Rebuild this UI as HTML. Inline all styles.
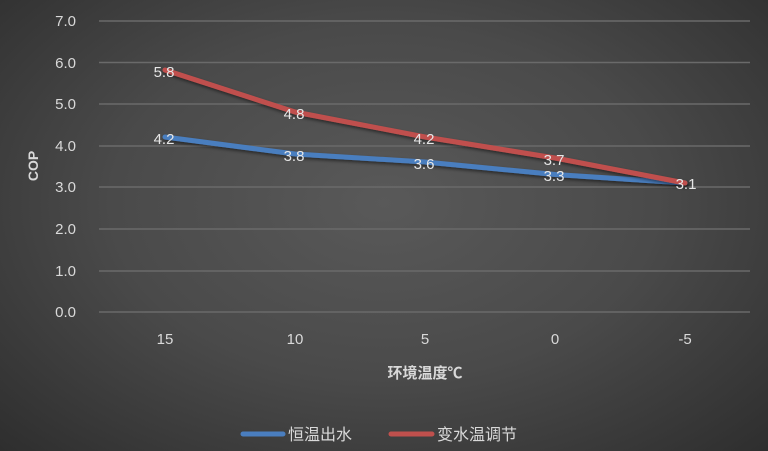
<!DOCTYPE html>
<html><head><meta charset="utf-8"><style>
html,body{margin:0;padding:0}
body{width:768px;height:451px;overflow:hidden;background:radial-gradient(ellipse at 50% 45%,#595959 0%,#4a4a4a 50%,#2e2e2e 100%);font-family:"Liberation Sans","Noto Sans CJK SC",sans-serif}
</style></head><body>
<svg width="768" height="451" xmlns="http://www.w3.org/2000/svg" style="position:absolute;left:0;top:0">
<defs><filter id="sh" x="-5%" y="-20%" width="110%" height="140%"><feDropShadow dx="1" dy="2" stdDeviation="1.5" flood-color="#000" flood-opacity="0.5"/></filter></defs>
<g stroke="#6a6a6a" stroke-width="1.5">
<line x1="99" x2="750" y1="21" y2="21"/><line x1="99" x2="750" y1="62.5" y2="62.5"/><line x1="99" x2="750" y1="104" y2="104"/><line x1="99" x2="750" y1="146" y2="146"/><line x1="99" x2="750" y1="187" y2="187"/><line x1="99" x2="750" y1="229" y2="229"/><line x1="99" x2="750" y1="271" y2="271"/><line x1="99" x2="750" y1="312" y2="312"/>
</g>
<g fill="#d9d9d9" font-size="15" text-anchor="end">
<text x="76" y="26">7.0</text><text x="76" y="68">6.0</text><text x="76" y="109">5.0</text><text x="76" y="151">4.0</text><text x="76" y="192">3.0</text><text x="76" y="234">2.0</text><text x="76" y="276">1.0</text><text x="76" y="317">0.0</text>
</g>
<g fill="#d9d9d9" font-size="15" text-anchor="middle">
<text x="165" y="344">15</text><text x="295" y="344">10</text><text x="425" y="344">5</text><text x="555" y="344">0</text><text x="685" y="344">-5</text>
</g>
<text x="425" y="378" fill="#d9d9d9" font-size="15" font-weight="bold" text-anchor="middle">环境温度℃</text>
<text transform="translate(38,166) rotate(-90)" fill="#d9d9d9" font-size="14" font-weight="bold" text-anchor="middle">COP</text>
<polyline filter="url(#sh)" points="165,137 295,154 425,162 555,174.5 685,183" fill="none" stroke="#4a7ebf" stroke-width="5" stroke-linecap="round" stroke-linejoin="round"/>
<polyline filter="url(#sh)" points="165,70 295,112 425,137 555,158 685,183" fill="none" stroke="#c0504d" stroke-width="5" stroke-linecap="round" stroke-linejoin="round"/>
<g fill="#e6e6e6" font-size="15" text-anchor="middle">
<text x="164" y="77">5.8</text><text x="294" y="119">4.8</text><text x="424" y="144">4.2</text><text x="554" y="165">3.7</text>
<text x="164" y="144">4.2</text><text x="294" y="161">3.8</text><text x="424" y="169">3.6</text><text x="554" y="181">3.3</text><text x="686" y="189">3.1</text>
</g>
<line x1="243" x2="283" y1="434" y2="434" stroke="#4a7ebf" stroke-width="5" stroke-linecap="round"/>
<text x="288" y="440" fill="#d9d9d9" font-size="16">恒温出水</text>
<line x1="391" x2="432" y1="434" y2="434" stroke="#c0504d" stroke-width="5" stroke-linecap="round"/>
<text x="437" y="440" fill="#d9d9d9" font-size="16">变水温调节</text>
</svg>
</body></html>
